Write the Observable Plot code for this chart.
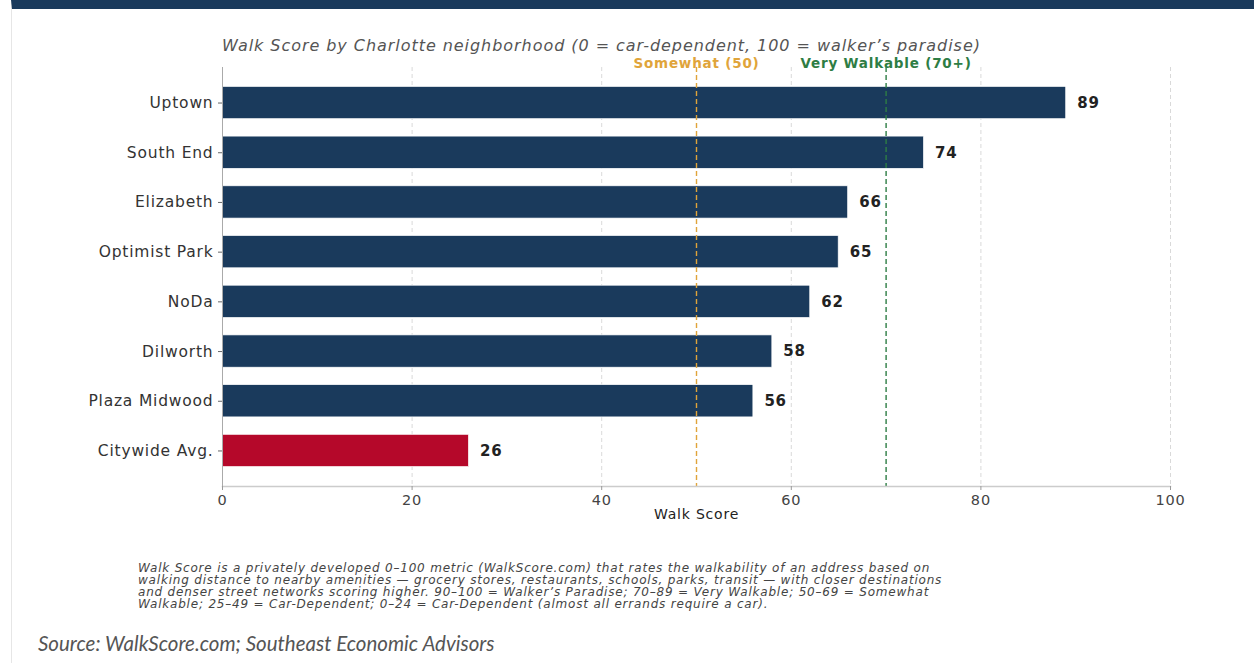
<!DOCTYPE html>
<html><head><meta charset="utf-8">
<script src="https://cdn.jsdelivr.net/npm/d3@7"></script>
<script src="https://cdn.jsdelivr.net/npm/@observablehq/plot@0.6"></script>
<style>
body{margin:0;background:#fff;width:1254px;height:665px;overflow:hidden;position:relative;font-family:"DejaVu Sans",sans-serif}
#card{position:absolute;left:11px;top:0;width:1243px;height:663px;border-top:9px solid #1a3a5c;border-left:1px solid #e6e6e6;box-sizing:border-box}
#title{position:absolute;left:222px;top:39px;font-style:italic;font-size:16px;line-height:14px;letter-spacing:0.95px;color:#555;white-space:nowrap}
#chart{position:absolute;left:0;top:30px}
#caption{position:absolute;left:138px;top:562px;font-style:italic;font-size:12px;letter-spacing:0.8px;line-height:12px;color:#444;white-space:pre}
#source{position:absolute;left:38px;top:631px;font-family:Lato,sans-serif;font-style:italic;font-size:20.5px;color:#555;white-space:nowrap}
</style>
</head><body>
<div id="card"></div>
<div id="title">Walk Score by Charlotte neighborhood (0 = car-dependent, 100 = walker’s paradise)</div>
<div id="chart"></div>
<div id="caption"></div>
<div id="source">Source: WalkScore.com; Southeast Economic Advisors</div>
<script>
const neighborhoods = ["Uptown","South End","Elizabeth","Optimist Park","NoDa","Dilworth","Plaza Midwood","Citywide Avg."];
const scores = [89,74,66,65,62,58,56,26];
const xTicks = [0,20,40,60,80,100];
const thresholds = [50,70];
const thresholdLabels = ["Somewhat (50)","Very Walkable (70+)"];
const thresholdColors = ["#e0a43a","#2e7d44"];
const captionLines = [
  "Walk Score is a privately developed 0–100 metric (WalkScore.com) that rates the walkability of an address based on",
  "walking distance to nearby amenities — grocery stores, restaurants, schools, parks, transit — with closer destinations",
  "and denser street networks scoring higher. 90–100 = Walker’s Paradise; 70–89 = Very Walkable; 50–69 = Somewhat",
  "Walkable; 25–49 = Car-Dependent; 0–24 = Car-Dependent (almost all errands require a car)."
];
const navy = "#1a3a5c", red = "#b5082a";

document.getElementById("caption").textContent = captionLines.join("\n");

const data = neighborhoods.map((n,i)=>({name:n, score:scores[i]}));
const thr = thresholds.map((t,i)=>({x:t, label:thresholdLabels[i], color:thresholdColors[i]}));

const chart = Plot.plot({
  width:1254, height:500, marginLeft:222, marginRight:84, marginTop:37, marginBottom:44,
  style:{fontFamily:"DejaVu Sans", fontSize:"13px", color:"#444", background:"transparent", letterSpacing:"0.8px"},
  x:{domain:[0,100], label:null},
  y:{domain:neighborhoods, paddingInner:0.35, paddingOuter:0.39, round:false, label:null},
  marks:[
    Plot.gridX(xTicks,{stroke:"#cfcfcf", strokeOpacity:1, strokeDasharray:"4,3", strokeWidth:0.8}),
    Plot.barX(data,{x:"score", y:"name", fill:d=>d.name==="Citywide Avg."?red:navy, stroke:"white", strokeWidth:0.7}),
    Plot.ruleX(thr,{x:"x", stroke:"color", strokeDasharray:"5,3", strokeWidth:1.4}),
    Plot.text(thr,{x:"x", text:"label", fill:"color", frameAnchor:"top", lineAnchor:"middle", dy:-4, fontWeight:"bold", fontSize:13.5}),
    Plot.text(data,{x:"score", y:"name", text:d=>String(d.score), dx:11, textAnchor:"start", fontWeight:"bold", fontSize:15, fill:"#222"}),
    Plot.frame({anchor:"bottom", stroke:"#cccccc", strokeWidth:1.5}),
    Plot.frame({anchor:"left", stroke:"#aaaaaa", strokeWidth:1}),
    Plot.axisX({ticks:xTicks, tickSize:4, tickPadding:4, stroke:"#999", fill:"#444", fontSize:14.5, label:null}),
    Plot.axisY({tickSize:4, tickPadding:5, stroke:"#666", fill:"#333", fontSize:15.5, label:null}),
    Plot.text(["Walk Score"],{frameAnchor:"bottom", lineAnchor:"middle", dy:28, fontSize:14, fill:"#222"})
  ]
});
document.getElementById("chart").appendChild(chart);
</script>
</body></html>
